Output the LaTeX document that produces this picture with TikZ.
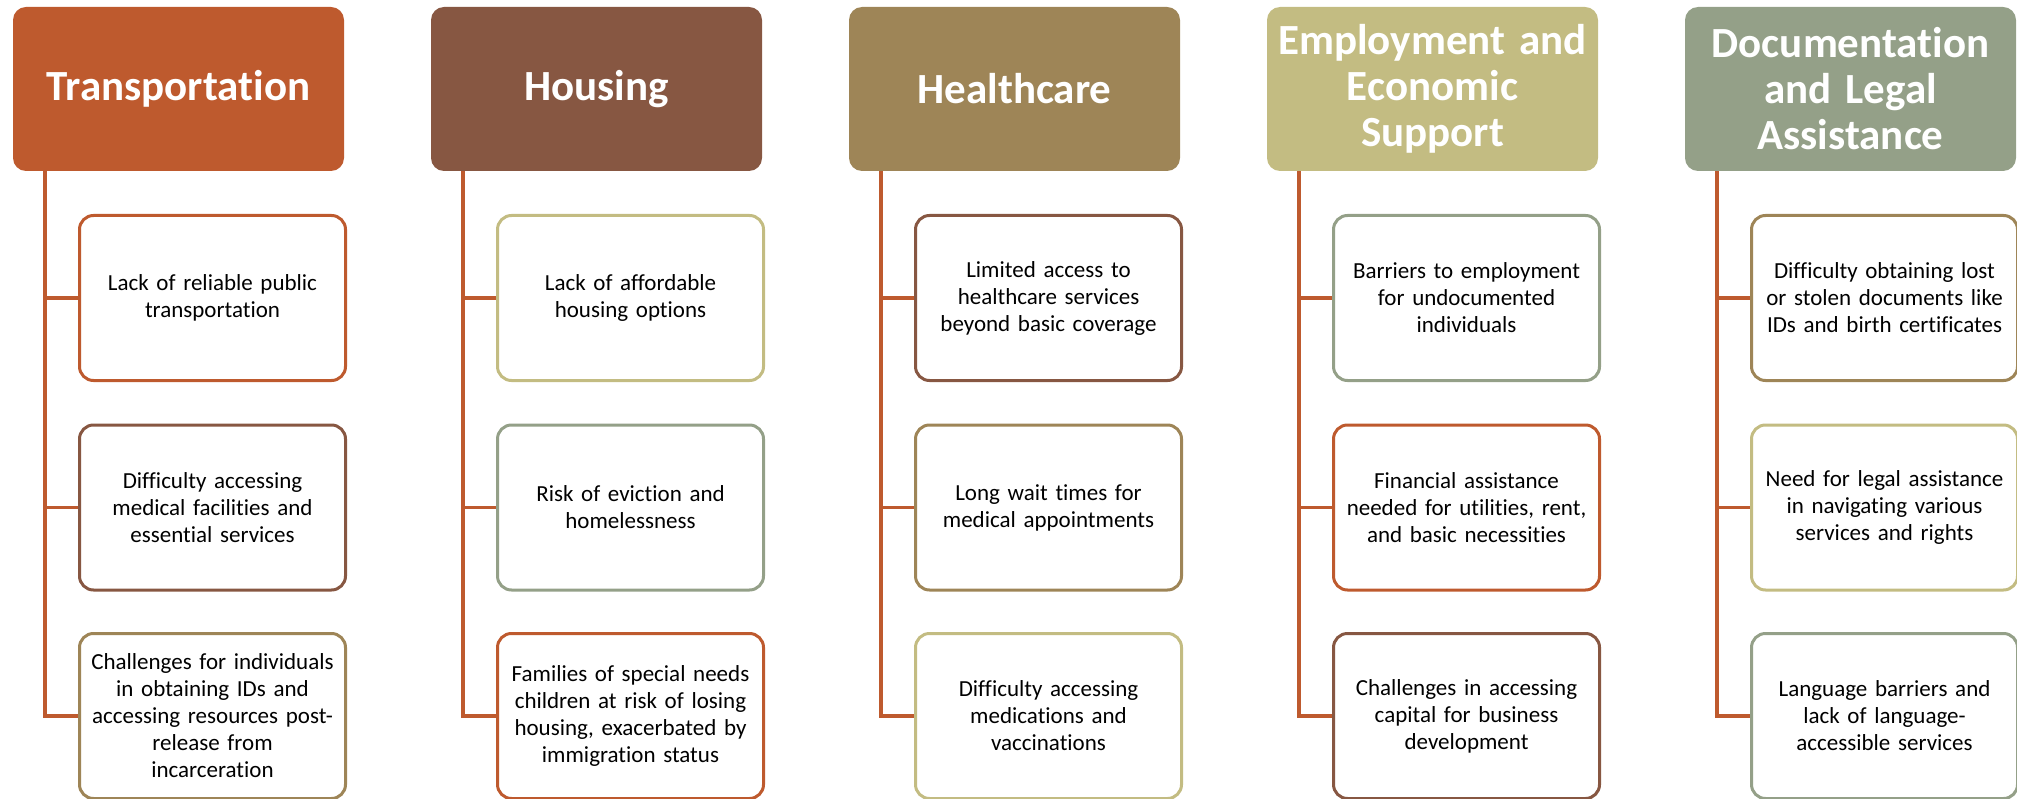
\documentclass[tikz,border=0pt]{standalone}
\usepackage{fontspec}
\setmainfont{Carlito}[Ligatures=NoCommon]
\usetikzlibrary{shapes}

\definecolor{rust}{HTML}{BE5A2E}
\definecolor{cocoa}{HTML}{875742}
\definecolor{tan}{HTML}{9E8557}
\definecolor{khaki}{HTML}{C3BC82}
\definecolor{sage}{HTML}{94A088}

\begin{document}
\begin{tikzpicture}[x=1pt,y=-1pt]
      \tikzstyle{hdr}=[rectangle, rounded corners=13pt, minimum width=331pt, minimum height=164pt,
        inner sep=0pt, text width=322pt, align=center, text=white,
        font=\fontsize{43}{46}\selectfont\bfseries]
      \tikzstyle{itembox}=[rectangle, rounded corners=14pt, draw, line width=3pt, fill=white,
        minimum width=266pt, minimum height=165pt, inner sep=0pt, text width=258pt,
        align=center, font=\fontsize{23}{27}\selectfont]
      \tikzstyle{trunk}=[rust, line width=3.5pt]
      \useasboundingbox (0,0) rectangle (2017,799);

      \node [hdr, fill=rust] (h1) at (178.5,89) {Transportation};
      \node [hdr, fill=cocoa] (h2) at (596.5,89) {Housing};
      \node [hdr, fill=tan] (h3) at (1014.5,89) {Healthcare};
      \node [hdr, fill=khaki] (h4) at (1432.5,89) {Employment and\\Economic\\Support};
      \node [hdr, fill=sage] (h5) at (1850.5,89) {Documentation\\and Legal\\Assistance};

      \node [itembox, draw=rust] (t1) at (212.5,298) {Lack of reliable public\\transportation};
      \node [itembox, draw=cocoa] (t2) at (212.5,507.5) {Difficulty accessing\\medical facilities and\\essential services};
      \node [itembox, draw=tan] (t3) at (212.5,716) {Challenges for individuals\\in obtaining IDs and\\accessing resources post-\\release from\\incarceration};

      \node [itembox, draw=khaki] (o1) at (630.5,298) {Lack of affordable\\housing options};
      \node [itembox, draw=sage] (o2) at (630.5,507.5) {Risk of eviction and\\homelessness};
      \node [itembox, draw=rust] (o3) at (630.5,716) {Families of special needs\\children at risk of losing\\housing, exacerbated by\\immigration status};

      \node [itembox, draw=cocoa] (c1) at (1048.5,298) {Limited access to\\healthcare services\\beyond basic coverage};
      \node [itembox, draw=tan] (c2) at (1048.5,507.5) {Long wait times for\\medical appointments};
      \node [itembox, draw=khaki] (c3) at (1048.5,716) {Difficulty accessing\\medications and\\vaccinations};

      \node [itembox, draw=sage] (e1) at (1466.5,298) {Barriers to employment\\for undocumented\\individuals};
      \node [itembox, draw=rust] (e2) at (1466.5,507.5) {Financial assistance\\needed for utilities, rent,\\and basic necessities};
      \node [itembox, draw=cocoa] (e3) at (1466.5,716) {Challenges in accessing\\capital for business\\development};

      \node [itembox, draw=tan] (d1) at (1884.5,298) {Difficulty obtaining lost\\or stolen documents like\\IDs and birth certificates};
      \node [itembox, draw=khaki] (d2) at (1884.5,507.5) {Need for legal assistance\\in navigating various\\services and rights};
      \node [itembox, draw=sage] (d3) at (1884.5,716) {Language barriers and\\lack of language-\\accessible services};

      \draw [trunk] ([xshift=32pt]h1.south west) |- (t1.west);
      \draw [trunk] ([xshift=32pt]h1.south west) |- (t2.west);
      \draw [trunk] ([xshift=32pt]h1.south west) |- (t3.west);
      \draw [trunk] ([xshift=32pt]h2.south west) |- (o1.west);
      \draw [trunk] ([xshift=32pt]h2.south west) |- (o2.west);
      \draw [trunk] ([xshift=32pt]h2.south west) |- (o3.west);
      \draw [trunk] ([xshift=32pt]h3.south west) |- (c1.west);
      \draw [trunk] ([xshift=32pt]h3.south west) |- (c2.west);
      \draw [trunk] ([xshift=32pt]h3.south west) |- (c3.west);
      \draw [trunk] ([xshift=32pt]h4.south west) |- (e1.west);
      \draw [trunk] ([xshift=32pt]h4.south west) |- (e2.west);
      \draw [trunk] ([xshift=32pt]h4.south west) |- (e3.west);
      \draw [trunk] ([xshift=32pt]h5.south west) |- (d1.west);
      \draw [trunk] ([xshift=32pt]h5.south west) |- (d2.west);
      \draw [trunk] ([xshift=32pt]h5.south west) |- (d3.west);
      \end{tikzpicture}
\end{document}
